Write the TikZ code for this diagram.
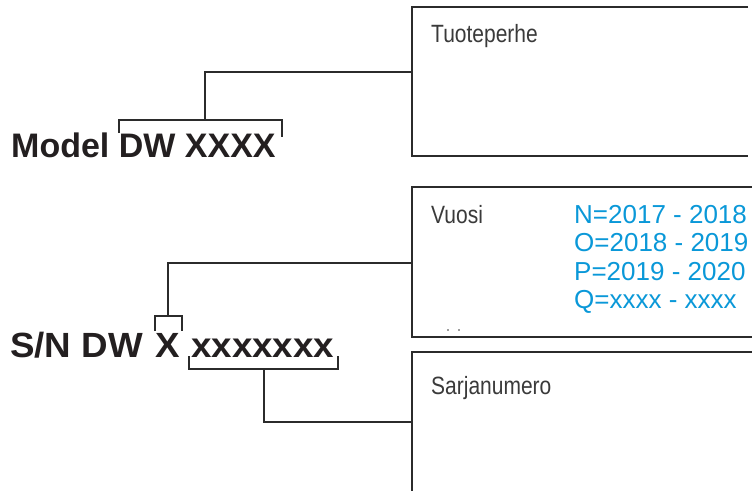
\documentclass[tikz,border=0pt]{standalone}
\usepackage{fontspec}
\setmainfont{Liberation Sans}
\newfontfamily\widef{Liberation Sans}[FakeStretch=1.05]
\newfontfamily\narrowf{Liberation Sans}[FakeStretch=0.84]
\definecolor{ink}{HTML}{231F20}
\definecolor{linec}{HTML}{2B2B2B}
\definecolor{graytext}{HTML}{3A3A3A}
\definecolor{blueyear}{HTML}{0A98D8}
\tikzset{
  conn/.style={draw=linec, line width=1.5pt},
  boxline/.style={draw=linec, line width=1.5pt},
  bigcode/.style={inner sep=0pt, anchor=base west, text=ink, font=\fontsize{34}{40}\selectfont\bfseries},
  sncode/.style={inner sep=0pt, anchor=base west, text=ink, font=\widef\fontsize{35}{40}\selectfont\bfseries},
  label/.style={inner sep=0pt, anchor=base west, text=graytext, font=\narrowf\fontsize{25}{30}\selectfont},
  yearlbl/.style={inner sep=0pt, anchor=base west, text=blueyear, font=\fontsize{26}{30}\selectfont},
}
\begin{document}
\begin{tikzpicture}[x=1pt,y=-1pt]
\useasboundingbox (0,0) rectangle (752,490);
% boxes (open on the right, cut by the picture edge)
\coordinate (b1tr) at (748,7);  \coordinate (b1tl) at (412,7);
\coordinate (b1bl) at (412,156); \coordinate (b1br) at (748,156);
\coordinate (b1in) at (412,72);
\draw[boxline] (b1tr) -- (b1tl) -- (b1bl) -- (b1br);
\coordinate (b2tr) at (752,187); \coordinate (b2tl) at (412,187);
\coordinate (b2bl) at (412,337); \coordinate (b2br) at (752,337);
\coordinate (b2in) at (412,263);
\draw[boxline] (b2tr) -- (b2tl) -- (b2bl) -- (b2br);
\coordinate (b3tr) at (752,352); \coordinate (b3tl) at (412,352);
\coordinate (b3bl) at (412,495);
\coordinate (b3in) at (412,422);
\draw[boxline] (b3tr) -- (b3tl) -- (b3bl);
% box texts
\node[label] (tuote) at (431,42) {Tuoteperhe};
\node[label] (vuosi) at (431,223) {Vuosi};
\node[label] (sarja) at (431,394) {Sarjanumero};
\node[yearlbl] (yN) at (574,223) {N=2017 - 2018};
\node[yearlbl] (yO) at (574,251.5) {O=2018 - 2019};
\node[yearlbl] (yP) at (574,280) {P=2019 - 2020};
\node[yearlbl] (yQ) at (574,308.5) {Q=xxxx - xxxx};
\fill[graytext] (448,330) circle (0.9) (459,330) circle (0.9);
% model code
\node[bigcode] (model) at (11,157) {Model DW XXXX};
\coordinate (mbl) at (119,133); \coordinate (mtl) at (119,120);
\coordinate (mtr) at (282,120); \coordinate (mbr) at (282,137);
\coordinate (mst) at (205,120); \coordinate (mup) at (205,72);
\draw[conn] (mbl) -- (mtl) -- (mtr) -- (mbr);
\draw[conn] (mst) -- (mup) -- (b1in);
% serial number
\node[sncode] (sn) at (10,357) {S/N DW};
\node[sncode] (snx) at (155,357) {X};
\node[sncode] (snxs) at (191,357) {xxxxxxx};
\coordinate (xbl) at (155,331); \coordinate (xtl) at (155,316);
\coordinate (xtr) at (182,316); \coordinate (xbr) at (182,331);
\coordinate (xst) at (168,316); \coordinate (xup) at (168,263);
\draw[conn] (xbl) -- (xtl) -- (xtr) -- (xbr);
\draw[conn] (xst) -- (xup) -- (b2in);
\coordinate (sbl) at (189,356); \coordinate (sblo) at (189,369);
\coordinate (sbro) at (338,369); \coordinate (sbr) at (338,356);
\coordinate (sst) at (264,369); \coordinate (sdn) at (264,422);
\draw[conn] (sbl) -- (sblo) -- (sbro) -- (sbr);
\draw[conn] (sst) -- (sdn) -- (b3in);
\end{tikzpicture}
\end{document}
